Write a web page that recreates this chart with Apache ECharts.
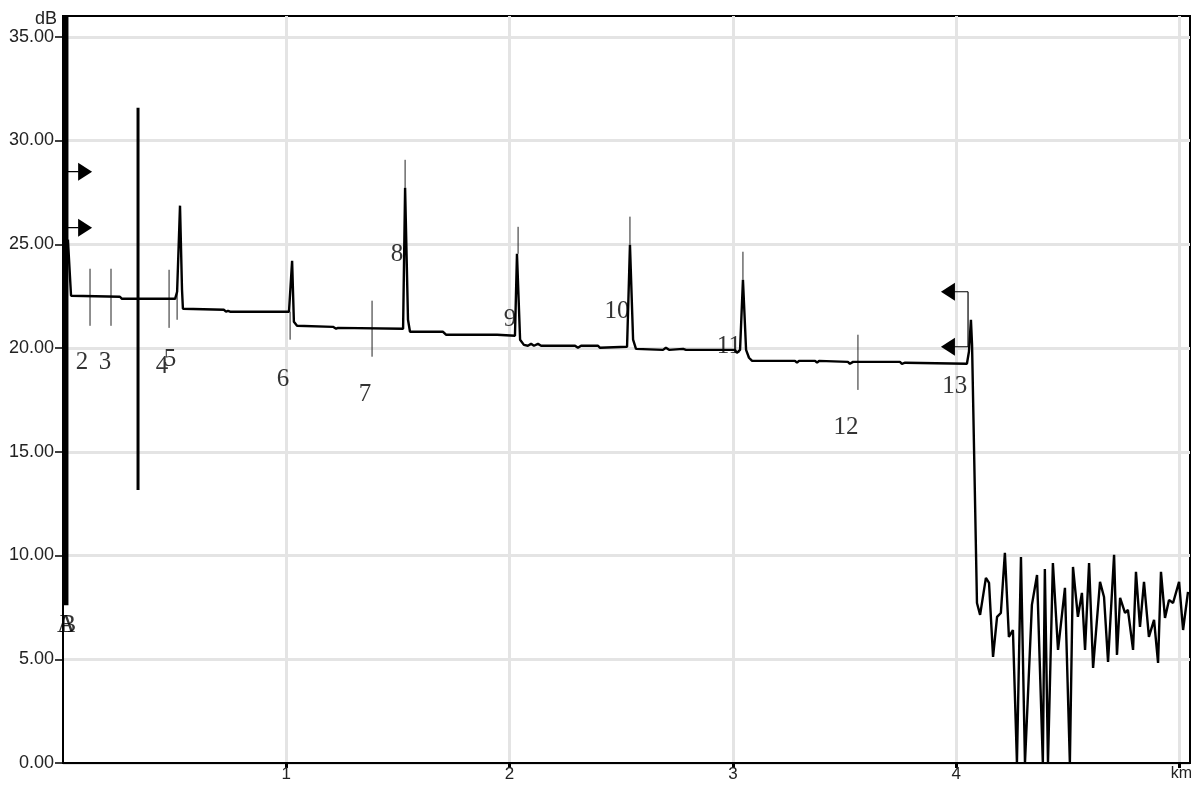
<!DOCTYPE html>
<html><head><meta charset="utf-8">
<script src="https://cdn.jsdelivr.net/npm/echarts@6/dist/echarts.min.js"></script>
<style>html,body{margin:0;padding:0;background:#fff}#c{width:1191px;height:787px}</style>
</head><body><div id="c"></div>
<script>
// OTDR trace: distance (km) and level (dB)
const traceKm = [0.022,0.036,0.255,0.264,0.502,0.511,0.524,0.533,0.537,0.721,0.730,0.739,0.748,1.012,1.026,1.034,1.048,1.209,1.223,1.232,1.240,1.523,1.532,1.545,1.554,1.702,1.715,1.944,1.948,2.024,2.033,2.047,2.064,2.082,2.096,2.109,2.127,2.141,2.293,2.306,2.320,2.396,2.405,2.526,2.539,2.553,2.566,2.687,2.700,2.714,2.777,2.790,3.009,3.018,3.032,3.036,3.045,3.059,3.072,3.086,3.278,3.287,3.296,3.368,3.377,3.386,3.515,3.524,3.538,3.748,3.757,3.771,4.048,4.057,4.066,4.071,4.093,
 4.107,4.133,4.147,4.165,4.183,4.200,4.218,4.236,4.254,4.272,4.290,4.308,4.339,4.362,4.388,4.397,4.411,4.433,4.456,4.487,4.509,4.523,4.545,4.563,4.577,4.595,4.613,4.644,4.662,4.680,4.707,4.720,4.734,4.756,4.769,4.792,4.805,4.823,4.841,4.863,4.886,4.904,4.917,4.935,4.953,4.971,4.998,5.016,5.038];
const traceDb = [25.22,22.52,22.47,22.37,22.37,22.71,26.86,22.81,21.89,21.84,21.75,21.79,21.75,21.75,24.20,21.26,21.07,21.02,20.93,20.97,20.93,20.93,27.72,21.36,20.78,20.78,20.64,20.64,20.59,20.59,24.54,20.40,20.15,20.11,20.20,20.11,20.20,20.11,20.11,20.01,20.11,20.11,20.01,20.06,24.98,20.40,19.96,19.91,20.01,19.91,19.96,19.91,19.91,19.77,19.91,19.82,23.29,19.91,19.53,19.38,19.38,19.29,19.38,19.38,19.29,19.38,19.33,19.24,19.33,19.33,19.24,19.29,19.24,19.82,21.36,20.15,7.71,
 7.14,8.92,8.68,5.11,7.04,7.23,10.13,6.08,6.41,0,9.93,0,7.62,9.06,0,9.35,0,9.64,5.45,8.44,0,9.45,7.04,8.20,5.45,9.64,4.58,8.73,8.00,4.87,10.03,5.21,7.96,7.23,7.38,5.45,9.21,6.56,8.73,6.08,6.90,4.82,9.21,6.99,7.86,7.71,8.73,6.41,8.25];

// event number labels
const eventLabels = ['2','3','4','5','6','7','8','9','10','11','12','13','A','B'];
const eventLabelKm = [0.085,0.188,0.443,0.479,0.985,1.352,1.496,2.002,2.481,2.982,3.507,3.994,0.014,0.022];
const eventLabelDb = [19.29,19.29,19.09,19.43,18.47,17.74,24.49,21.36,21.75,20.06,16.15,18.13,6.65,6.65];

// event marker ticks
const markerKm = [0.121,0.215,0.475,0.511,1.017,1.384,1.532,2.038,2.539,3.045,3.560];
const markerTop = [23.82,23.82,23.77,22.81,21.75,22.28,29.07,25.84,26.33,24.64,20.64];
const markerBottom = [21.07,21.07,20.97,21.36,20.40,19.58,27.72,24.54,24.98,23.29,17.98];

// cursors
const cursorKm = [0.011, 0.336];
const cursorTop = [36, 31.58];
const cursorBottom = [7.6, 13.16];
const cursorWidth = [6, 3];

// arrows
const leftArrowKm = 0.099, leftStubKm = [0.018, 0.070];
const leftArrowDb = [28.5, 25.8];
const rightArrowKm = 3.963, rightStubKm = [3.985, 4.053];
const rightArrowDb = [22.71, 20.06];

const yTickValues = [0,5,10,15,20,25,30,35];
const xTickValues = [1,2,3,4,5];

const series = [];
series.push({type:'line', data: traceKm.map((k,i)=>[k, traceDb[i]]), showSymbol:false, symbol:'none',
  lineStyle:{color:'#000', width:2.4}, z:5, silent:true, animation:false});
markerKm.forEach((k,i)=>{
  series.push({type:'line', data:[[k, markerTop[i]],[k, markerBottom[i]]], symbol:'none',
    lineStyle:{color:'#222', width:1}, z:4, animation:false, silent:true});
});
cursorKm.forEach((k,i)=>{
  series.push({type:'line', data:[[k, cursorTop[i]],[k, cursorBottom[i]]], symbol:'none',
    lineStyle:{color:'#000', width:cursorWidth[i], cap:'butt'}, z:6, animation:false, silent:true});
});
leftArrowDb.forEach(d=>{
  series.push({type:'line', data:[[leftStubKm[0], d],[leftStubKm[1], d]], symbol:'none',
    lineStyle:{color:'#000', width:1.2}, z:6, animation:false, silent:true});
});
rightArrowDb.forEach(d=>{
  series.push({type:'line', data:[[rightStubKm[0], d],[rightStubKm[1], d]], symbol:'none',
    lineStyle:{color:'#000', width:1.2}, z:6, animation:false, silent:true});
});
series.push({type:'line', data:[[rightStubKm[1], rightArrowDb[0]],[rightStubKm[1], rightArrowDb[1]]], symbol:'none',
  lineStyle:{color:'#000', width:1.2}, z:6, animation:false, silent:true});
series.push({type:'scatter', data: leftArrowDb.map(d=>[leftArrowKm, d]), symbol:'triangle', symbolSize:[18,14], symbolRotate:-90,
  itemStyle:{color:'#000', opacity:1}, z:7, animation:false, silent:true});
series.push({type:'scatter', data: rightArrowDb.map(d=>[rightArrowKm, d]), symbol:'triangle', symbolSize:[18,14], symbolRotate:90,
  itemStyle:{color:'#000', opacity:1}, z:7, animation:false, silent:true});
series.push({type:'scatter', data: eventLabels.map((t,i)=>[eventLabelKm[i], eventLabelDb[i], t]), symbolSize:1,
  itemStyle:{color:'transparent'}, z:8, animation:false, silent:true,
  label:{show:true, position:'inside', formatter:p=>p.data[2], fontFamily:'Liberation Serif', fontSize:25, color:'#000'}});

const chart = echarts.init(document.getElementById('c'), null, {renderer:'canvas'});
chart.setOption({
  backgroundColor:'#fff',
  animation:false,
  grid:{left:63, right:1, top:16, bottom:24, outerBoundsMode:'none', containLabel:false,
    show:true, borderColor:'#000', borderWidth:2, backgroundColor:'transparent'},
  xAxis:{type:'value', min:0, max:5.047, interval:1,
    axisLine:{show:true, onZero:false, lineStyle:{color:'#000', width:2}},
    axisTick:{show:true, length:5, lineStyle:{color:'#000', width:3}, customValues:xTickValues},
    splitLine:{show:true, lineStyle:{color:'#e4e4e4', width:3}},
    axisLabel:{fontFamily:'Liberation Sans', fontSize:17, color:'#222', margin:3,
      customValues:xTickValues,
      formatter:v=> v===5 ? '{km|km}' : String(v),
      rich:{km:{fontFamily:'Liberation Sans', fontSize:16, color:'#222', padding:[0,0,0,4]}}}},
  yAxis:{type:'value', min:0, max:36, interval:5,
    name:'dB', nameLocation:'end', nameGap:-7,
    nameTextStyle:{fontFamily:'Liberation Sans', fontSize:18, color:'#222', align:'right', verticalAlign:'middle', padding:[0,6,0,0]},
    axisLine:{show:true, lineStyle:{color:'#000', width:2}},
    axisTick:{show:true, length:8, lineStyle:{color:'#000', width:1.5}, customValues:yTickValues},
    splitLine:{show:true, lineStyle:{color:'#e4e4e4', width:3}},
    axisLabel:{fontFamily:'Liberation Sans', fontSize:18, color:'#222', margin:9, customValues:yTickValues,
      formatter:v=>v.toFixed(2)}},
  series: series
});
</script>
</body></html>
